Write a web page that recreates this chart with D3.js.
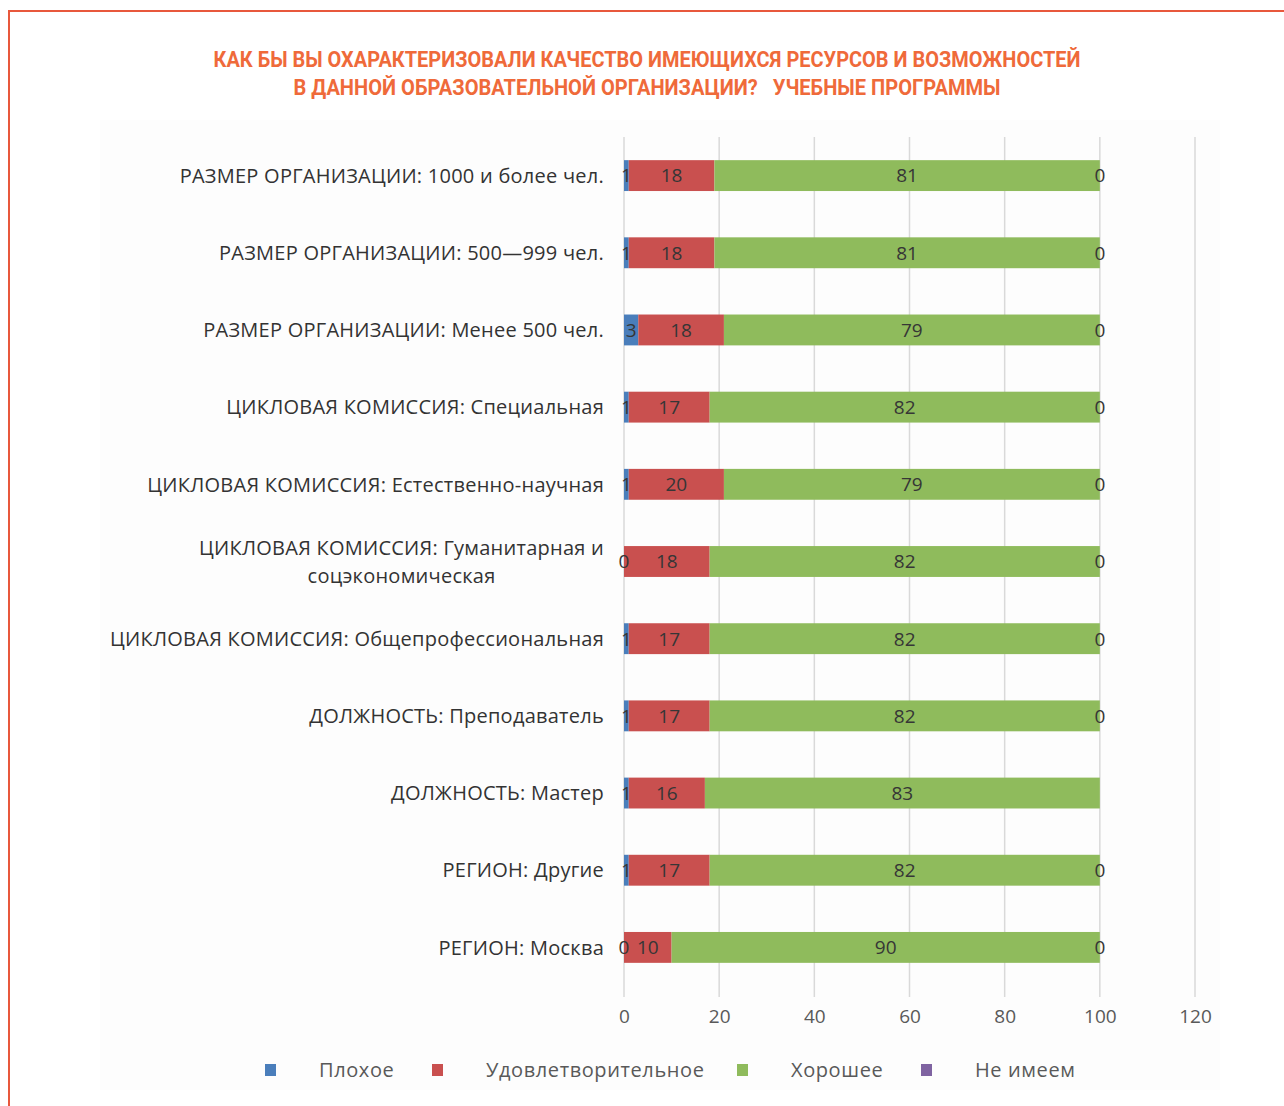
<!DOCTYPE html>
<html>
  <head>
    <meta charset="utf-8">
    <title></title>
    <script src="https://cdn.jsdelivr.net/npm/d3@7"></script>
    <style>
      body { margin: 0; background: #fff; }
      svg text { font-family: "Open Sans", "Noto Sans", sans-serif; }
    </style>
  </head>
  <body>
  <div id="chart"></div>
  <script>
    /* ------------------
      data
    ------------------ */

    var categories = [
      "РАЗМЕР ОРГАНИЗАЦИИ: 1000 и более чел.",
      "РАЗМЕР ОРГАНИЗАЦИИ: 500—999 чел.",
      "РАЗМЕР ОРГАНИЗАЦИИ: Менее 500 чел.",
      "ЦИКЛОВАЯ КОМИССИЯ: Специальная",
      "ЦИКЛОВАЯ КОМИССИЯ: Естественно-научная",
      "ЦИКЛОВАЯ КОМИССИЯ: Гуманитарная и|соцэкономическая",
      "ЦИКЛОВАЯ КОМИССИЯ: Общепрофессиональная",
      "ДОЛЖНОСТЬ: Преподаватель",
      "ДОЛЖНОСТЬ: Мастер",
      "РЕГИОН: Другие",
      "РЕГИОН: Москва"
    ];

    var seriesNames = ["Плохое", "Удовлетворительное", "Хорошее", "Не имеем"];
    var bad       = [1, 1, 3, 1, 1, 0, 1, 1, 1, 1, 0];
    var fair      = [18, 18, 18, 17, 20, 18, 17, 17, 16, 17, 10];
    var good      = [81, 81, 79, 82, 79, 82, 82, 82, 83, 82, 90];
    var noneHave  = [0, 0, 0, 0, 0, 0, 0, 0, null, 0, 0];
    var xTicks    = [0, 20, 40, 60, 80, 100, 120];

    var colors = ["#4a7ebb", "#c9504f", "#8fbb5c", "#7f63a1"];

    var titleLines = [
      "КАК БЫ ВЫ ОХАРАКТЕРИЗОВАЛИ КАЧЕСТВО ИМЕЮЩИХСЯ РЕСУРСОВ И ВОЗМОЖНОСТЕЙ",
      "В ДАННОЙ ОБРАЗОВАТЕЛЬНОЙ ОРГАНИЗАЦИИ?   УЧЕБНЫЕ ПРОГРАММЫ"
    ];

    /* ------------------
      setup
    ------------------ */

    var W = 1284, H = 1106;
    var svg = d3.select('#chart').append('svg').attr('width', W).attr('height', H);

    // рамка
    svg.append('path')
      .attr('d', 'M9,' + H + ' L9,11 L' + W + ',11')
      .attr('fill', 'none').attr('stroke', '#e8583c').attr('stroke-width', 2);

    // фон области диаграммы
    svg.append('rect').attr('x', 100).attr('y', 120).attr('width', 1120).attr('height', 970)
      .attr('fill', '#fdfdfd');

    svg.selectAll('.title').data(titleLines).enter().append('text')
      .attr('x', 647).attr('y', function(d, i) { return 67 + i * 28; })
      .attr('text-anchor', 'middle')
      .attr('textLength', function(d, i) { return i == 0 ? 867 : 707; })
      .attr('lengthAdjust', 'spacingAndGlyphs')
      .style('white-space', 'pre')
      .style('font-family', 'Roboto, sans-serif')
      .style('font-weight', 'bold')
      .style('font-size', '22px')
      .attr('fill', '#ef6a3a')
      .text(function(d) { return d; });

    var x = d3.scaleLinear().domain([0, 120]).range([624, 1195]);
    var y = d3.scaleBand().domain(d3.range(categories.length)).range([137, 986]).paddingInner(0.6).paddingOuter(0.3);

    // сетка
    svg.append('g').selectAll('line').data(xTicks).enter().append('line')
      .attr('x1', x).attr('x2', x).attr('y1', 137).attr('y2', 997)
      .attr('stroke', '#d9d9d9').attr('stroke-width', 1.5);

    // ось X
    var xAxis = svg.append('g').attr('transform', 'translate(0,1009)')
      .call(d3.axisBottom(x).tickValues(xTicks).tickSize(0).tickPadding(0));
    xAxis.select('.domain').remove();
    xAxis.selectAll('text').style('font-size', '19px').attr('fill', '#595959')
      .style('font-family', '"Open Sans", sans-serif');

    // стек: сегменты с накоплением
    var segs = [];
    categories.forEach(function(c, i) {
      var v = [bad[i], fair[i], good[i], noneHave[i]];
      var x0 = 0;
      v.forEach(function(val, s) {
        if (val === null) return;
        segs.push({ i: i, s: s, v: val, x0: x0 });
        x0 += val;
      });
    });

    var barG = svg.append('g');
    var lblG = svg.append('g');

    barG.selectAll('rect').data(segs).enter().append('rect')
      .attr('x', function(d) { return x(d.x0); })
      .attr('y', function(d) { return y(d.i); })
      .attr('width', function(d) { return x(d.x0 + d.v) - x(d.x0); })
      .attr('height', y.bandwidth())
      .attr('fill', function(d) { return colors[d.s]; });

    lblG.selectAll('text').data(segs).enter().append('text')
      .attr('x', function(d) { return x(d.x0 + d.v / 2); })
      .attr('y', function(d) { return y(d.i) + y.bandwidth() / 2; })
      .attr('dy', '0.36em').attr('text-anchor', 'middle')
      .style('font-size', '19px').attr('fill', '#363636')
      .text(function(d) { return d.v; });

    // подписи категорий
    var labels = svg.append('g').selectAll('text').data(categories).enter().append('text')
      .attr('text-anchor', 'middle')
      .style('font-size', '20px').style('letter-spacing', '0.25px').attr('fill', '#333333');
    labels.each(function(d, i) {
      var lines = d.split('|');
      var t = d3.select(this);
      lines.forEach(function(l, k) {
        t.append('tspan').attr('x', 0)
          .attr('y', y(i) + y.bandwidth() / 2 + (k - (lines.length - 1) / 2) * 28)
          .attr('dy', '0.36em').text(l);
      });
      var w = this.getBBox().width;
      t.attr('transform', 'translate(' + (604 - w / 2) + ',0)');
    });

    // легенда
    var legX = [270, 437, 742, 926];
    var leg = svg.append('g').selectAll('g').data(seriesNames).enter().append('g')
      .attr('transform', function(d, i) { return 'translate(' + legX[i] + ',1070)'; });
    leg.append('rect').attr('x', -5).attr('y', -6).attr('width', 11).attr('height', 12)
      .attr('fill', function(d, i) { return colors[i]; });
    leg.append('text').attr('x', 49).attr('dy', '0.36em')
      .style('font-size', '20px').style('letter-spacing', '0.6px').attr('fill', '#595959')
      .text(function(d) { return d; });
  </script>
</body>
</html>
